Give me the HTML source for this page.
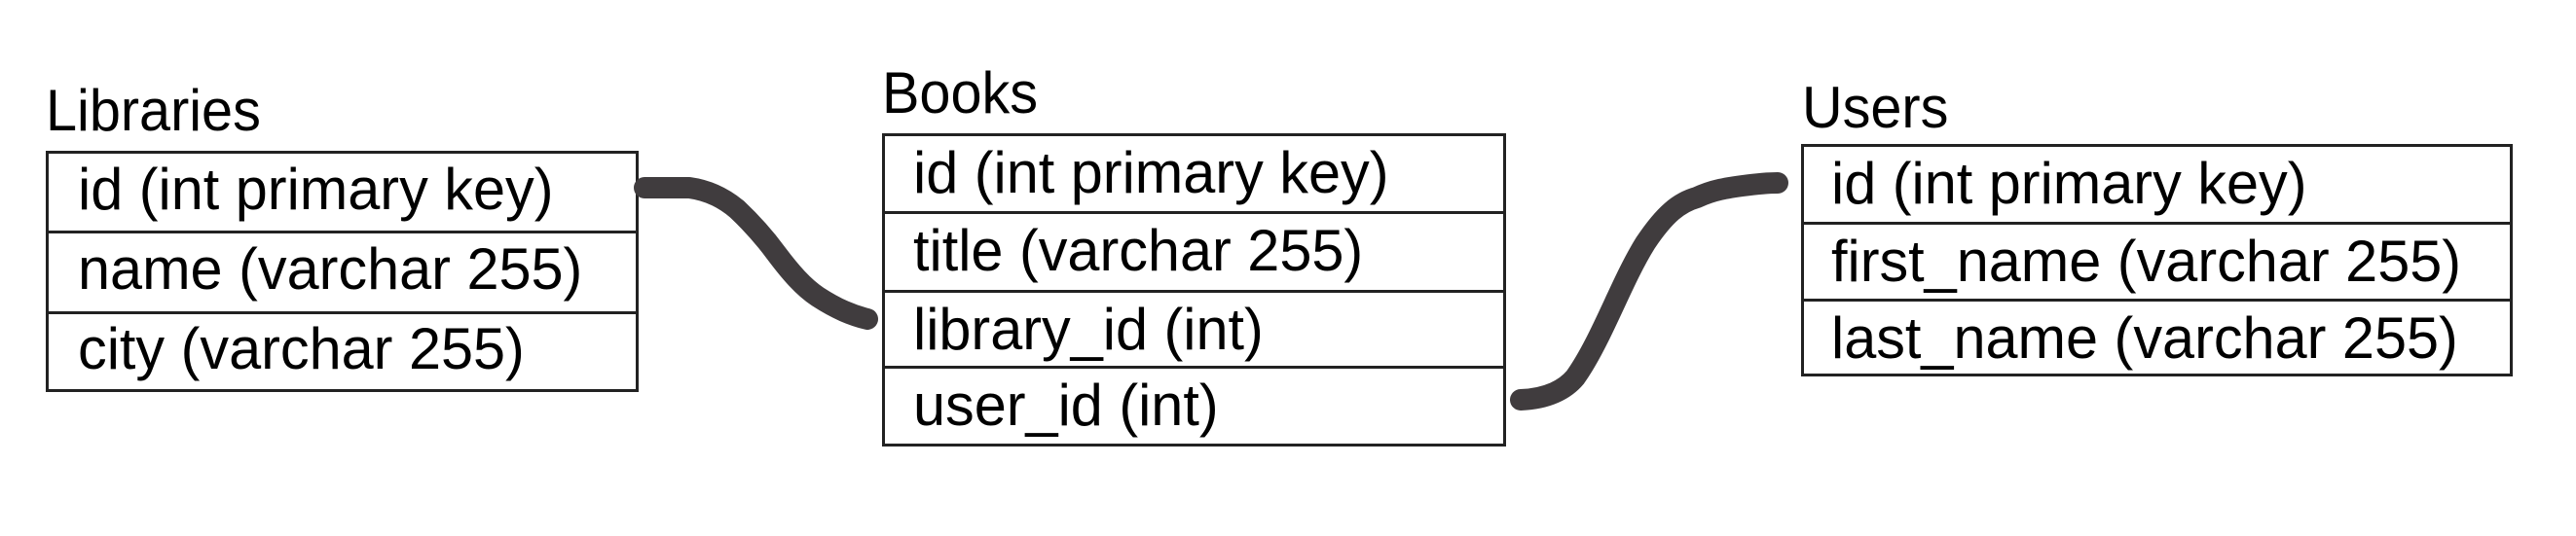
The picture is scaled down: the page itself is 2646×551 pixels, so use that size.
<!DOCTYPE html>
<html><head><style>
body{margin:0;width:2646px;height:551px;background:#fff;position:relative;overflow:hidden;font-family:"Liberation Sans",sans-serif;color:#000}
.t{position:absolute;font-size:60px;line-height:1;white-space:nowrap;transform-origin:0 0;transform:scaleX(0.96)}
.box{position:absolute;border:3px solid #222;box-sizing:border-box}
.r{position:absolute;font-size:60px;line-height:1;white-space:nowrap;transform-origin:0 0;transform:scaleX(0.99)}
</style></head><body>
<div class="t" style="left:47px;top:84px">Libraries</div>
<div class="t" style="left:906px;top:66px">Books</div>
<div class="t" style="left:1851px;top:81px">Users</div>

<div class="box" style="left:47px;top:155px;width:609px;height:248px"></div>
<div class="box" style="left:47px;top:237px;width:609px;height:3px;border:none;background:#222"></div>
<div class="box" style="left:47px;top:320px;width:609px;height:3px;border:none;background:#222"></div>
<div class="r" style="left:80px;top:165px">id (int primary key)</div>
<div class="r" style="left:80px;top:247px">name (varchar 255)</div>
<div class="r" style="left:80px;top:329px">city (varchar 255)</div>

<div class="box" style="left:906px;top:137px;width:641px;height:322px"></div>
<div class="box" style="left:906px;top:217px;width:641px;height:3px;border:none;background:#222"></div>
<div class="box" style="left:906px;top:298px;width:641px;height:3px;border:none;background:#222"></div>
<div class="box" style="left:906px;top:376px;width:641px;height:3px;border:none;background:#222"></div>
<div class="r" style="left:938px;top:148px">id (int primary key)</div>
<div class="r" style="left:938px;top:228px">title (varchar 255)</div>
<div class="r" style="left:938px;top:309px">library_id (int)</div>
<div class="r" style="left:938px;top:387px">user_id (int)</div>

<div class="box" style="left:1850px;top:148px;width:731px;height:239px"></div>
<div class="box" style="left:1850px;top:228px;width:731px;height:3px;border:none;background:#222"></div>
<div class="box" style="left:1850px;top:307px;width:731px;height:3px;border:none;background:#222"></div>
<div class="r" style="left:1881px;top:159px">id (int primary key)</div>
<div class="r" style="left:1881px;top:239px">first_name (varchar 255)</div>
<div class="r" style="left:1881px;top:318px">last_name (varchar 255)</div>

<svg width="2646" height="551" style="position:absolute;left:0;top:0" fill="none" stroke="#403c3e" stroke-width="22" stroke-linecap="round" stroke-linejoin="round">
<path d="M662 193 L708 193 C730 196 745 205 757 215 C775 232 786 245 797 260 C812 280 825 295 840 305 C860 318 875 324 891 328"/>
<path d="M1562 411 C1590 410 1608 400 1618 388 C1645 350 1665 290 1690 250 C1710 220 1725 208 1743 203 C1760 195 1775 193 1790 191 C1805 189 1815 188 1826 188"/>
</svg>
</body></html>
